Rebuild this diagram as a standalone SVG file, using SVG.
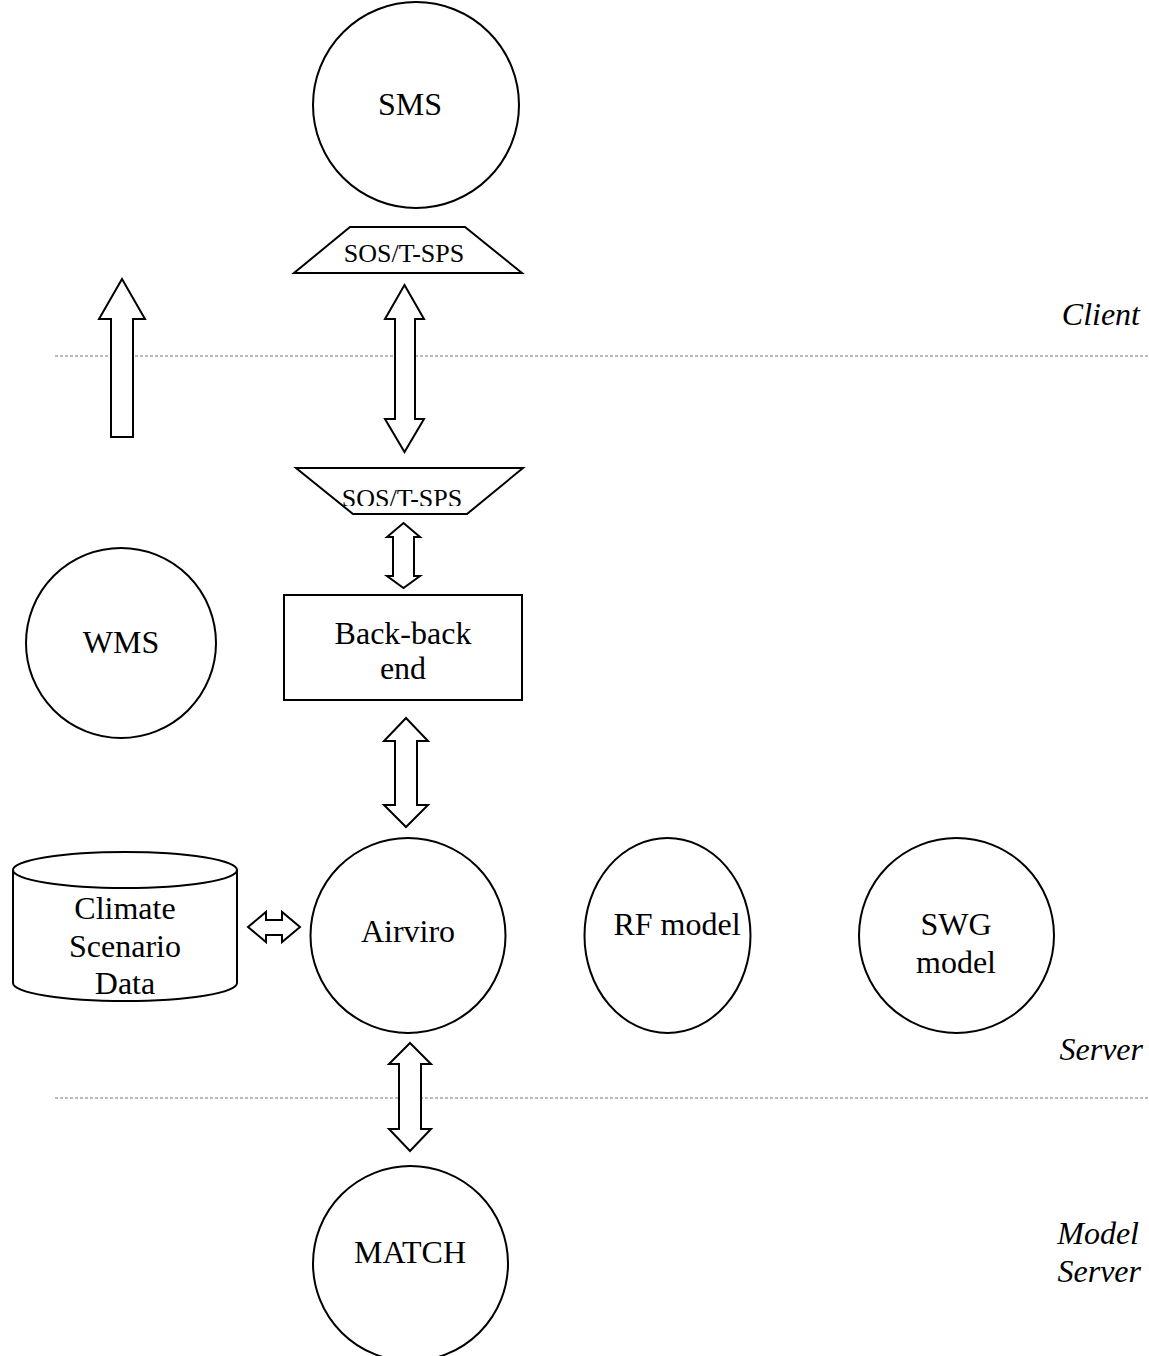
<svg xmlns="http://www.w3.org/2000/svg" width="1149" height="1356" viewBox="0 0 1149 1356">
<style>
.shape{fill:#fff;stroke:#000;stroke-width:2}
.arrow{fill:#fff;stroke:#000;stroke-width:2;stroke-linejoin:miter}
.lbl{font-family:"Liberation Serif","Times New Roman",serif;font-size:32px;fill:#000;text-anchor:middle}
.small{font-size:26px}
.zone{font-family:"Liberation Serif","Times New Roman",serif;font-size:32px;font-style:italic;fill:#000;text-anchor:end}
.sep{stroke:#777;stroke-width:1;stroke-dasharray:3 2;fill:none}
</style>
<defs>
<clipPath id="clipSos2"><rect x="290" y="460" width="240" height="46"/></clipPath>
</defs>
<rect width="1149" height="1356" fill="#fff"/>
<g id="separators">
<line class="sep" x1="55" y1="356" x2="1149" y2="356"/>
<line class="sep" x1="55" y1="1098" x2="1149" y2="1098"/>
</g>
<g id="zone-labels">
<text class="zone" x="1140" y="325">Client</text>
<text class="zone" x="1143" y="1060">Server</text>
<text class="zone" x="1139" y="1244">Model</text>
<text class="zone" x="1141" y="1282">Server</text>
</g>
<g id="sms">
<circle class="shape" cx="416" cy="105" r="103"/>
<text class="lbl" x="410" y="115">SMS</text>
</g>
<g id="sos-top">
<polygon class="shape" points="350,227 465,227 522,273 294,273"/>
<text class="lbl small" x="404" y="262">SOS/T-SPS</text>
</g>
<g id="sos-bottom">
<polygon class="shape" points="296,468 523,468 467,514 353,514"/>
<text class="lbl small" x="402" y="507" clip-path="url(#clipSos2)">SOS/T-SPS</text>
</g>
<g id="backend">
<rect class="shape" x="284" y="595" width="238" height="105"/>
<text class="lbl" x="403" y="644">Back-back</text>
<text class="lbl" x="403" y="679">end</text>
</g>
<g id="wms">
<circle class="shape" cx="121" cy="643" r="95"/>
<text class="lbl" x="121" y="653">WMS</text>
</g>
<g id="climate-data">
<path class="shape" d="M13,870 L13,983 A112,18 0 0 0 237,983 L237,870"/>
<ellipse class="shape" cx="125" cy="870" rx="112" ry="18"/>
<text class="lbl" x="125" y="919">Climate</text>
<text class="lbl" x="125" y="957">Scenario</text>
<text class="lbl" x="125" y="994">Data</text>
</g>
<g id="airviro">
<circle class="shape" cx="408" cy="935.5" r="97.5"/>
<text class="lbl" x="408" y="942">Airviro</text>
</g>
<g id="rf-model">
<ellipse class="shape" cx="667.5" cy="935.5" rx="83" ry="97.5"/>
<text class="lbl" x="677" y="935">RF model</text>
</g>
<g id="swg-model">
<circle class="shape" cx="956.5" cy="935.5" r="97.5"/>
<text class="lbl" x="956" y="935">SWG</text>
<text class="lbl" x="956" y="973">model</text>
</g>
<g id="match">
<circle class="shape" cx="410.5" cy="1263.5" r="97.5"/>
<text class="lbl" x="410" y="1263">MATCH</text>
</g>
<g id="connectors">
<polygon class="arrow" points="122,279 145,319 133,319 133,437 111,437 111,319 99,319"/>
<polygon class="arrow" points="404.5,285 424,319 415,319 415,419 424,419 404.5,452 385,419 395,419 395,319 385,319"/>
<polygon class="arrow" points="403.5,523 420,537 414,537 414,576 420,576 403.5,588 387,576 393,576 393,537 387,537"/>
<polygon class="arrow" points="406,718 428,741 417,741 417,805 428,805 406,827 384,805 395,805 395,741 384,741"/>
<polygon class="arrow" points="410,1043 431,1064 421,1064 421,1129 431,1129 410,1151 389,1129 399,1129 399,1064 389,1064"/>
<polygon class="arrow" points="248,927 266,912 266,920 282,920 282,912 300,927 282,942 282,935 266,935 266,942"/>
</g>
</svg>
